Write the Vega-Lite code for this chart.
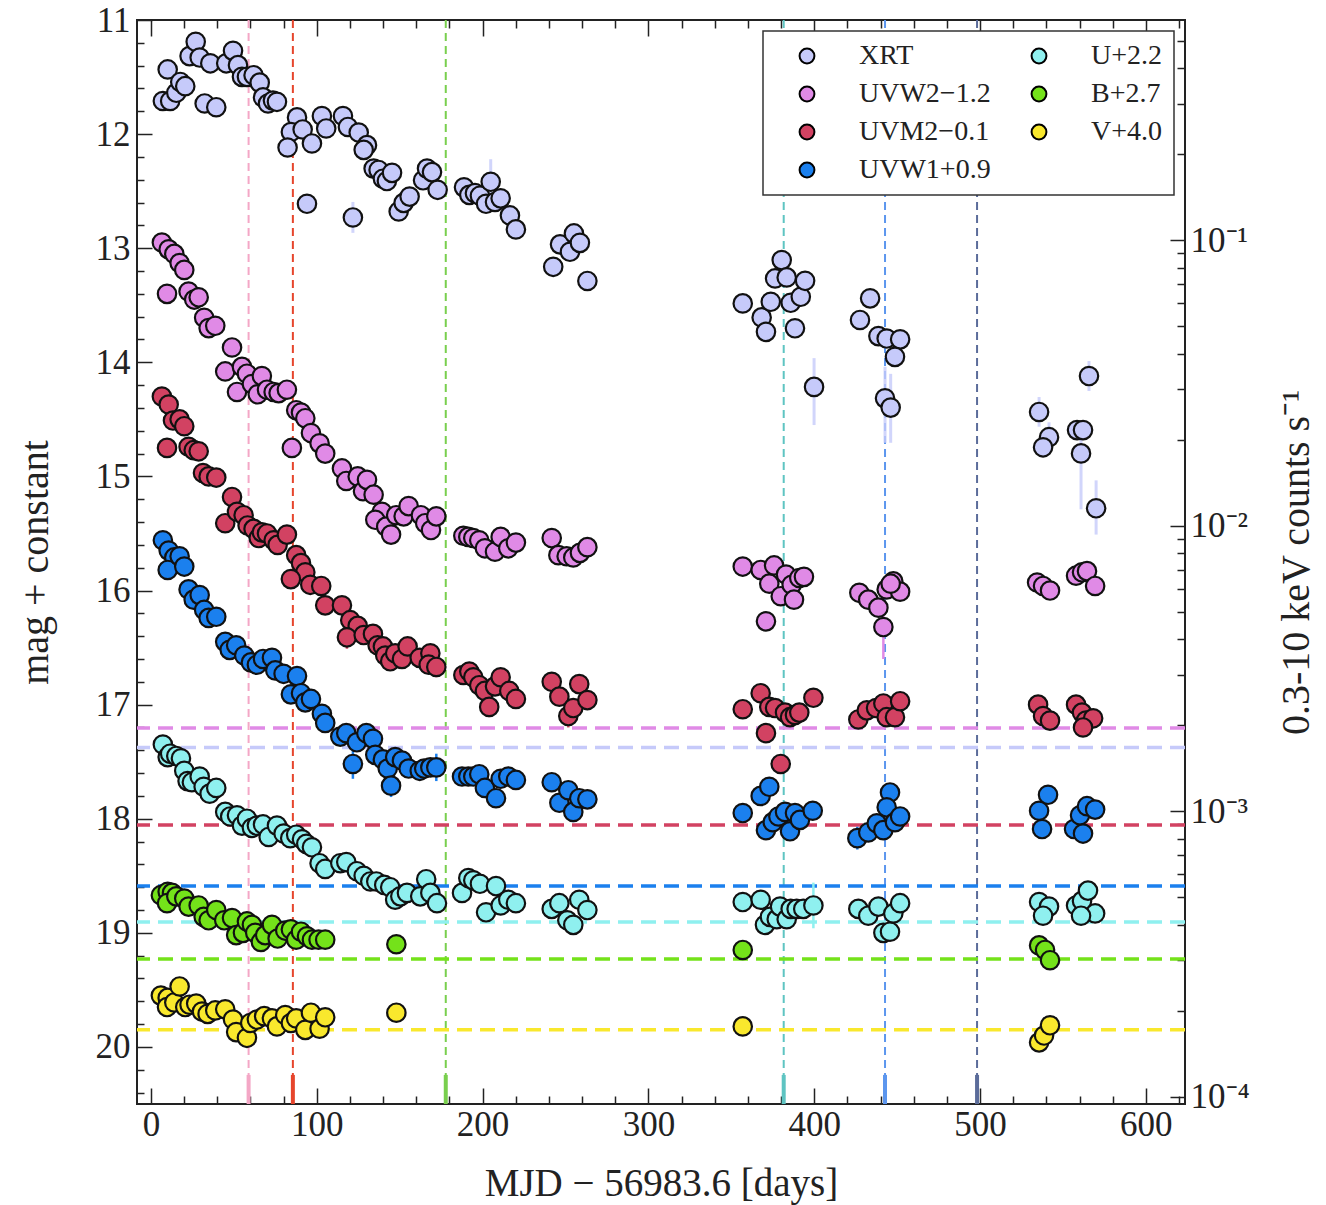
{
"$schema":"https://vega.github.io/schema/vega-lite/v6.json",
"width":1048,"height":1084,"autosize":"none",
"padding":{"left":137,"top":20,"right":141,"bottom":101},
"background":"white",
"config":{
 "font":"Liberation Serif",
 "view":{"stroke":"#222","strokeWidth":2},
 "axis":{"labelFont":"Liberation Serif","labelFontSize":35,"labelColor":"#222","titleFont":"Liberation Serif","titleFontSize":40,"titleFontWeight":"normal","titleColor":"#222","domain":false,"grid":false,"tickColor":"#222","tickWidth":1.5,"labelOverlap":false,"labelFlush":false},
 "legend":{"orient":"top-right","offset":11,"columns":2,"padding":11,"strokeColor":"#333","strokeWidth":1.5,"fillColor":"white","cornerRadius":0,"labelFont":"Liberation Serif","labelFontSize":28,"labelColor":"#222","symbolSize":220,"symbolStrokeWidth":2,"symbolStrokeColor":"black","symbolType":"circle","rowPadding":10,"columnPadding":15,"labelOffset":38,"symbolOffset":19}
},
"datasets":{
"xrt":[
{"band":"XRT","day":7.2,"rate":0.307},{"band":"XRT","day":10.1,"rate":0.396},{"band":"XRT","day":11.6,"rate":0.307},{"band":"XRT","day":15.3,"rate":0.328},{"band":"XRT","day":17.7,"rate":0.358},{"band":"XRT","day":20.7,"rate":0.346},{"band":"XRT","day":23.3,"rate":0.441},{"band":"XRT","day":27.0,"rate":0.495},{"band":"XRT","day":29.4,"rate":0.436},{"band":"XRT","day":35.8,"rate":0.416},{"band":"XRT","day":32.4,"rate":0.301},{"band":"XRT","day":39.4,"rate":0.292},{"band":"XRT","day":45.4,"rate":0.416},{"band":"XRT","day":49.5,"rate":0.46},{"band":"XRT","day":52.5,"rate":0.41},{"band":"XRT","day":54.9,"rate":0.373},{"band":"XRT","day":57.9,"rate":0.373},{"band":"XRT","day":61.9,"rate":0.378},{"band":"XRT","day":65.6,"rate":0.356},{"band":"XRT","day":67.6,"rate":0.316},{"band":"XRT","day":70.6,"rate":0.301},{"band":"XRT","day":73.6,"rate":0.308},{"band":"XRT","day":76.0,"rate":0.305},{"band":"XRT","day":88.1,"rate":0.269},{"band":"XRT","day":84.4,"rate":0.239},{"band":"XRT","day":91.5,"rate":0.244},{"band":"XRT","day":82.4,"rate":0.211},{"band":"XRT","day":97.1,"rate":0.218},{"band":"XRT","day":94.1,"rate":0.134},{"band":"XRT","day":103.1,"rate":0.272},{"band":"XRT","day":105.7,"rate":0.246},{"band":"XRT","day":115.8,"rate":0.272},{"band":"XRT","day":118.8,"rate":0.249},{"band":"XRT","day":125.3,"rate":0.238},{"band":"XRT","day":130.3,"rate":0.215},{"band":"XRT","day":128.3,"rate":0.207},{"band":"XRT","day":121.8,"rate":0.12},{"band":"XRT","day":134.3,"rate":0.178},{"band":"XRT","day":137.3,"rate":0.176},{"band":"XRT","day":139.9,"rate":0.164},{"band":"XRT","day":142.3,"rate":0.161},{"band":"XRT","day":145.4,"rate":0.172},{"band":"XRT","day":149.4,"rate":0.126},{"band":"XRT","day":152.4,"rate":0.135},{"band":"XRT","day":156.0,"rate":0.142},{"band":"XRT","day":164.1,"rate":0.162},{"band":"XRT","day":166.5,"rate":0.178},{"band":"XRT","day":169.5,"rate":0.173},{"band":"XRT","day":172.9,"rate":0.15},{"band":"XRT","day":188.8,"rate":0.153},{"band":"XRT","day":192.0,"rate":0.144},{"band":"XRT","day":195.4,"rate":0.146},{"band":"XRT","day":198.4,"rate":0.143},{"band":"XRT","day":202.1,"rate":0.134},{"band":"XRT","day":204.9,"rate":0.16},{"band":"XRT","day":207.5,"rate":0.136},{"band":"XRT","day":210.9,"rate":0.14},{"band":"XRT","day":216.5,"rate":0.122},{"band":"XRT","day":220.1,"rate":0.109},{"band":"XRT","day":242.6,"rate":0.0806},{"band":"XRT","day":246.7,"rate":0.0966},{"band":"XRT","day":252.7,"rate":0.091},{"band":"XRT","day":255.1,"rate":0.1055},{"band":"XRT","day":258.7,"rate":0.0978},{"band":"XRT","day":263.2,"rate":0.0719},{"band":"XRT","day":356.9,"rate":0.06},{"band":"XRT","day":368.3,"rate":0.0536},{"band":"XRT","day":370.9,"rate":0.0477},{"band":"XRT","day":373.8,"rate":0.0608},{"band":"XRT","day":376.4,"rate":0.0734},{"band":"XRT","day":380.4,"rate":0.0851},{"band":"XRT","day":383.4,"rate":0.074},{"band":"XRT","day":385.8,"rate":0.0603},{"band":"XRT","day":388.4,"rate":0.0491},{"band":"XRT","day":391.9,"rate":0.0633},{"band":"XRT","day":394.5,"rate":0.072},{"band":"XRT","day":399.9,"rate":0.0306},{"band":"XRT","day":427.6,"rate":0.0525},{"band":"XRT","day":433.7,"rate":0.0625},{"band":"XRT","day":438.7,"rate":0.0461},{"band":"XRT","day":443.7,"rate":0.0452},{"band":"XRT","day":451.8,"rate":0.0449},{"band":"XRT","day":448.7,"rate":0.039},{"band":"XRT","day":442.7,"rate":0.0279},{"band":"XRT","day":446.1,"rate":0.0259},{"band":"XRT","day":535.6,"rate":0.025},{"band":"XRT","day":541.6,"rate":0.0204},{"band":"XRT","day":538.0,"rate":0.0188},{"band":"XRT","day":558.5,"rate":0.0216},{"band":"XRT","day":562.1,"rate":0.0216},{"band":"XRT","day":560.9,"rate":0.0179},{"band":"XRT","day":565.7,"rate":0.0334},{"band":"XRT","day":570.0,"rate":0.0115}
],
"xrterr":[
{"series":"XRT","day":121.8,"lo":0.106,"hi":0.136},{"series":"XRT","day":204.9,"lo":0.133,"hi":0.192},{"series":"XRT","day":399.9,"lo":0.0225,"hi":0.0386},{"series":"XRT","day":442.7,"lo":0.0195,"hi":0.036},{"series":"XRT","day":446.1,"lo":0.0195,"hi":0.034},{"series":"XRT","day":535.6,"lo":0.0222,"hi":0.0282},{"series":"XRT","day":541.6,"lo":0.018,"hi":0.023},{"series":"XRT","day":560.9,"lo":0.0114,"hi":0.0216},{"series":"XRT","day":565.7,"lo":0.0296,"hi":0.0377},{"series":"XRT","day":570.0,"lo":0.0093,"hi":0.0144}
],
"xrtlevel":[{"series":"XRT","rate":0.00167}],
"levels":[
{"series":"UVW2−1.2","level":17.205},{"series":"UVM2−0.1","level":18.055},{"series":"UVW1+0.9","level":18.59},{"series":"U+2.2","level":18.905},{"series":"B+2.7","level":19.23},{"series":"V+4.0","level":19.85}
],
"epochs":[
{"epoch":"E1","day":58.9},{"epoch":"E2","day":85.6},{"epoch":"E3","day":177.8},{"epoch":"E4","day":381.6},{"epoch":"E5","day":442.7},{"epoch":"E6","day":498.2}
],
"magerr":[
{"series":"UVM2−0.1","day":118.2,"lo":16.31,"hi":16.51},{"series":"UVM2−0.1","day":172.1,"lo":16.58,"hi":16.76},{"series":"UVM2−0.1","day":204.0,"lo":16.93,"hi":17.11},{"series":"UVM2−0.1","day":251.7,"lo":17.0,"hi":17.2},{"series":"UVM2−0.1","day":426.6,"lo":17.05,"hi":17.21},{"series":"UVM2−0.1","day":443.7,"lo":17.03,"hi":17.19},
{"series":"UVW1+0.9","day":121.8,"lo":17.39,"hi":17.65},{"series":"UVW1+0.9","day":144.8,"lo":17.61,"hi":17.81},{"series":"UVW1+0.9","day":172.1,"lo":17.43,"hi":17.67},{"series":"UVW1+0.9","day":254.7,"lo":17.85,"hi":18.03},{"series":"UVW1+0.9","day":426.0,"lo":18.07,"hi":18.27},
{"series":"UVW2−1.2","day":441.7,"lo":16.1,"hi":16.6},
{"series":"U+2.2","day":399.5,"lo":18.56,"hi":18.96},{"series":"U+2.2","day":254.7,"lo":18.87,"hi":18.99}
],
"mag":[
{"band":"UVW2−1.2","day":6.6,"mag":12.95},{"band":"UVW2−1.2","day":10.7,"mag":13.01},{"band":"UVW2−1.2","day":14.1,"mag":13.05},{"band":"UVW2−1.2","day":17.3,"mag":13.13},{"band":"UVW2−1.2","day":20.1,"mag":13.19},{"band":"UVW2−1.2","day":9.7,"mag":13.4},{"band":"UVW2−1.2","day":22.7,"mag":13.38},{"band":"UVW2−1.2","day":26.1,"mag":13.45},{"band":"UVW2−1.2","day":28.8,"mag":13.43},{"band":"UVW2−1.2","day":32.1,"mag":13.61},{"band":"UVW2−1.2","day":34.8,"mag":13.7},{"band":"UVW2−1.2","day":38.8,"mag":13.68},{"band":"UVW2−1.2","day":48.9,"mag":13.87},{"band":"UVW2−1.2","day":44.8,"mag":14.08},{"band":"UVW2−1.2","day":54.9,"mag":14.04},{"band":"UVW2−1.2","day":57.9,"mag":14.1},{"band":"UVW2−1.2","day":51.9,"mag":14.26},{"band":"UVW2−1.2","day":60.9,"mag":14.19},{"band":"UVW2−1.2","day":64.4,"mag":14.28},{"band":"UVW2−1.2","day":66.9,"mag":14.12},{"band":"UVW2−1.2","day":70.0,"mag":14.24},{"band":"UVW2−1.2","day":74.0,"mag":14.26},{"band":"UVW2−1.2","day":77.0,"mag":14.27},{"band":"UVW2−1.2","day":82.0,"mag":14.24},{"band":"UVW2−1.2","day":85.0,"mag":14.75},{"band":"UVW2−1.2","day":87.6,"mag":14.42},{"band":"UVW2−1.2","day":90.5,"mag":14.44},{"band":"UVW2−1.2","day":93.1,"mag":14.49},{"band":"UVW2−1.2","day":96.5,"mag":14.62},{"band":"UVW2−1.2","day":101.7,"mag":14.71},{"band":"UVW2−1.2","day":105.1,"mag":14.8},{"band":"UVW2−1.2","day":115.2,"mag":14.93},{"band":"UVW2−1.2","day":117.8,"mag":15.04},{"band":"UVW2−1.2","day":124.7,"mag":15.0},{"band":"UVW2−1.2","day":127.9,"mag":15.13},{"band":"UVW2−1.2","day":130.3,"mag":15.03},{"band":"UVW2−1.2","day":134.3,"mag":15.16},{"band":"UVW2−1.2","day":139.3,"mag":15.31},{"band":"UVW2−1.2","day":135.3,"mag":15.38},{"band":"UVW2−1.2","day":141.9,"mag":15.44},{"band":"UVW2−1.2","day":144.8,"mag":15.51},{"band":"UVW2−1.2","day":147.9,"mag":15.34},{"band":"UVW2−1.2","day":152.4,"mag":15.35},{"band":"UVW2−1.2","day":155.4,"mag":15.26},{"band":"UVW2−1.2","day":162.8,"mag":15.34},{"band":"UVW2−1.2","day":165.4,"mag":15.41},{"band":"UVW2−1.2","day":168.9,"mag":15.47},{"band":"UVW2−1.2","day":172.1,"mag":15.35},{"band":"UVW2−1.2","day":188.4,"mag":15.52},{"band":"UVW2−1.2","day":191.4,"mag":15.53},{"band":"UVW2−1.2","day":194.4,"mag":15.54},{"band":"UVW2−1.2","day":198.0,"mag":15.56},{"band":"UVW2−1.2","day":201.4,"mag":15.63},{"band":"UVW2−1.2","day":207.5,"mag":15.66},{"band":"UVW2−1.2","day":210.9,"mag":15.53},{"band":"UVW2−1.2","day":215.5,"mag":15.63},{"band":"UVW2−1.2","day":220.1,"mag":15.58},{"band":"UVW2−1.2","day":241.7,"mag":15.54},{"band":"UVW2−1.2","day":245.7,"mag":15.69},{"band":"UVW2−1.2","day":250.7,"mag":15.7},{"band":"UVW2−1.2","day":254.7,"mag":15.71},{"band":"UVW2−1.2","day":258.7,"mag":15.67},{"band":"UVW2−1.2","day":263.2,"mag":15.62},{"band":"UVW2−1.2","day":356.9,"mag":15.79},{"band":"UVW2−1.2","day":367.7,"mag":15.82},{"band":"UVW2−1.2","day":372.9,"mag":15.94},{"band":"UVW2−1.2","day":375.8,"mag":15.78},{"band":"UVW2−1.2","day":379.8,"mag":16.05},{"band":"UVW2−1.2","day":383.0,"mag":15.86},{"band":"UVW2−1.2","day":386.4,"mag":15.95},{"band":"UVW2−1.2","day":387.8,"mag":16.08},{"band":"UVW2−1.2","day":391.0,"mag":15.89},{"band":"UVW2−1.2","day":393.8,"mag":15.88},{"band":"UVW2−1.2","day":370.9,"mag":16.27},{"band":"UVW2−1.2","day":427.2,"mag":16.02},{"band":"UVW2−1.2","day":432.6,"mag":16.08},{"band":"UVW2−1.2","day":438.7,"mag":16.15},{"band":"UVW2−1.2","day":441.7,"mag":16.32},{"band":"UVW2−1.2","day":443.7,"mag":15.99},{"band":"UVW2−1.2","day":447.7,"mag":15.92},{"band":"UVW2−1.2","day":451.8,"mag":16.01},{"band":"UVW2−1.2","day":446.1,"mag":15.94},{"band":"UVW2−1.2","day":534.4,"mag":15.93},{"band":"UVW2−1.2","day":538.0,"mag":15.96},{"band":"UVW2−1.2","day":542.2,"mag":16.0},{"band":"UVW2−1.2","day":557.9,"mag":15.87},{"band":"UVW2−1.2","day":561.5,"mag":15.84},{"band":"UVW2−1.2","day":564.5,"mag":15.83},{"band":"UVW2−1.2","day":569.4,"mag":15.96},
{"band":"UVM2−0.1","day":6.6,"mag":14.3},{"band":"UVM2−0.1","day":10.7,"mag":14.37},{"band":"UVM2−0.1","day":13.3,"mag":14.51},{"band":"UVM2−0.1","day":17.3,"mag":14.5},{"band":"UVM2−0.1","day":20.1,"mag":14.56},{"band":"UVM2−0.1","day":9.7,"mag":14.75},{"band":"UVM2−0.1","day":22.7,"mag":14.74},{"band":"UVM2−0.1","day":25.8,"mag":14.77},{"band":"UVM2−0.1","day":28.8,"mag":14.78},{"band":"UVM2−0.1","day":31.4,"mag":14.97},{"band":"UVM2−0.1","day":34.8,"mag":15.0},{"band":"UVM2−0.1","day":39.4,"mag":15.01},{"band":"UVM2−0.1","day":48.9,"mag":15.18},{"band":"UVM2−0.1","day":44.8,"mag":15.41},{"band":"UVM2−0.1","day":51.9,"mag":15.31},{"band":"UVM2−0.1","day":55.9,"mag":15.34},{"band":"UVM2−0.1","day":58.3,"mag":15.43},{"band":"UVM2−0.1","day":61.9,"mag":15.46},{"band":"UVM2−0.1","day":65.0,"mag":15.54},{"band":"UVM2−0.1","day":66.9,"mag":15.49},{"band":"UVM2−0.1","day":70.0,"mag":15.5},{"band":"UVM2−0.1","day":74.0,"mag":15.56},{"band":"UVM2−0.1","day":76.4,"mag":15.6},{"band":"UVM2−0.1","day":82.0,"mag":15.51},{"band":"UVM2−0.1","day":87.6,"mag":15.69},{"band":"UVM2−0.1","day":90.5,"mag":15.76},{"band":"UVM2−0.1","day":93.1,"mag":15.84},{"band":"UVM2−0.1","day":84.4,"mag":15.9},{"band":"UVM2−0.1","day":96.1,"mag":15.95},{"band":"UVM2−0.1","day":102.7,"mag":15.96},{"band":"UVM2−0.1","day":105.1,"mag":16.13},{"band":"UVM2−0.1","day":115.2,"mag":16.13},{"band":"UVM2−0.1","day":120.2,"mag":16.26},{"band":"UVM2−0.1","day":124.7,"mag":16.31},{"band":"UVM2−0.1","day":118.2,"mag":16.41},{"band":"UVM2−0.1","day":128.3,"mag":16.39},{"band":"UVM2−0.1","day":133.9,"mag":16.38},{"band":"UVM2−0.1","day":136.7,"mag":16.48},{"band":"UVM2−0.1","day":139.9,"mag":16.49},{"band":"UVM2−0.1","day":141.3,"mag":16.57},{"band":"UVM2−0.1","day":144.3,"mag":16.62},{"band":"UVM2−0.1","day":147.3,"mag":16.55},{"band":"UVM2−0.1","day":151.4,"mag":16.6},{"band":"UVM2−0.1","day":154.8,"mag":16.49},{"band":"UVM2−0.1","day":162.1,"mag":16.59},{"band":"UVM2−0.1","day":168.5,"mag":16.55},{"band":"UVM2−0.1","day":167.5,"mag":16.65},{"band":"UVM2−0.1","day":172.1,"mag":16.67},{"band":"UVM2−0.1","day":188.4,"mag":16.74},{"band":"UVM2−0.1","day":192.0,"mag":16.71},{"band":"UVM2−0.1","day":194.4,"mag":16.76},{"band":"UVM2−0.1","day":198.0,"mag":16.83},{"band":"UVM2−0.1","day":201.4,"mag":16.88},{"band":"UVM2−0.1","day":204.0,"mag":17.02},{"band":"UVM2−0.1","day":207.5,"mag":16.84},{"band":"UVM2−0.1","day":210.9,"mag":16.76},{"band":"UVM2−0.1","day":216.1,"mag":16.88},{"band":"UVM2−0.1","day":220.1,"mag":16.95},{"band":"UVM2−0.1","day":241.7,"mag":16.8},{"band":"UVM2−0.1","day":246.3,"mag":16.93},{"band":"UVM2−0.1","day":251.7,"mag":17.1},{"band":"UVM2−0.1","day":254.7,"mag":17.03},{"band":"UVM2−0.1","day":258.3,"mag":16.82},{"band":"UVM2−0.1","day":263.2,"mag":16.96},{"band":"UVM2−0.1","day":356.9,"mag":17.04},{"band":"UVM2−0.1","day":367.7,"mag":16.9},{"band":"UVM2−0.1","day":370.9,"mag":17.25},{"band":"UVM2−0.1","day":372.9,"mag":17.02},{"band":"UVM2−0.1","day":376.4,"mag":17.03},{"band":"UVM2−0.1","day":382.4,"mag":17.07},{"band":"UVM2−0.1","day":385.4,"mag":17.11},{"band":"UVM2−0.1","day":388.4,"mag":17.09},{"band":"UVM2−0.1","day":391.0,"mag":17.07},{"band":"UVM2−0.1","day":399.5,"mag":16.94},{"band":"UVM2−0.1","day":379.8,"mag":17.52},{"band":"UVM2−0.1","day":426.6,"mag":17.13},{"band":"UVM2−0.1","day":431.7,"mag":17.05},{"band":"UVM2−0.1","day":437.3,"mag":17.03},{"band":"UVM2−0.1","day":441.7,"mag":16.99},{"band":"UVM2−0.1","day":443.7,"mag":17.11},{"band":"UVM2−0.1","day":448.7,"mag":17.11},{"band":"UVM2−0.1","day":451.8,"mag":16.97},{"band":"UVM2−0.1","day":535.0,"mag":17.0},{"band":"UVM2−0.1","day":538.0,"mag":17.1},{"band":"UVM2−0.1","day":542.2,"mag":17.14},{"band":"UVM2−0.1","day":557.9,"mag":17.0},{"band":"UVM2−0.1","day":561.5,"mag":17.07},{"band":"UVM2−0.1","day":563.9,"mag":17.14},{"band":"UVM2−0.1","day":568.2,"mag":17.12},{"band":"UVM2−0.1","day":562.1,"mag":17.2},
{"band":"UVW1+0.9","day":7.2,"mag":15.56},{"band":"UVW1+0.9","day":10.7,"mag":15.65},{"band":"UVW1+0.9","day":14.1,"mag":15.71},{"band":"UVW1+0.9","day":10.1,"mag":15.82},{"band":"UVW1+0.9","day":17.3,"mag":15.7},{"band":"UVW1+0.9","day":20.1,"mag":15.79},{"band":"UVW1+0.9","day":22.7,"mag":15.99},{"band":"UVW1+0.9","day":25.8,"mag":16.08},{"band":"UVW1+0.9","day":29.4,"mag":16.04},{"band":"UVW1+0.9","day":32.1,"mag":16.17},{"band":"UVW1+0.9","day":34.8,"mag":16.24},{"band":"UVW1+0.9","day":39.4,"mag":16.23},{"band":"UVW1+0.9","day":44.8,"mag":16.45},{"band":"UVW1+0.9","day":47.5,"mag":16.52},{"band":"UVW1+0.9","day":51.4,"mag":16.48},{"band":"UVW1+0.9","day":56.3,"mag":16.57},{"band":"UVW1+0.9","day":60.3,"mag":16.63},{"band":"UVW1+0.9","day":63.9,"mag":16.65},{"band":"UVW1+0.9","day":67.6,"mag":16.6},{"band":"UVW1+0.9","day":73.0,"mag":16.59},{"band":"UVW1+0.9","day":75.0,"mag":16.7},{"band":"UVW1+0.9","day":80.0,"mag":16.73},{"band":"UVW1+0.9","day":84.4,"mag":16.91},{"band":"UVW1+0.9","day":88.1,"mag":16.75},{"band":"UVW1+0.9","day":90.5,"mag":16.9},{"band":"UVW1+0.9","day":93.1,"mag":16.98},{"band":"UVW1+0.9","day":96.5,"mag":16.95},{"band":"UVW1+0.9","day":103.1,"mag":17.08},{"band":"UVW1+0.9","day":105.1,"mag":17.16},{"band":"UVW1+0.9","day":114.2,"mag":17.28},{"band":"UVW1+0.9","day":117.8,"mag":17.25},{"band":"UVW1+0.9","day":121.8,"mag":17.52},{"band":"UVW1+0.9","day":124.2,"mag":17.33},{"band":"UVW1+0.9","day":129.9,"mag":17.25},{"band":"UVW1+0.9","day":133.9,"mag":17.3},{"band":"UVW1+0.9","day":135.3,"mag":17.44},{"band":"UVW1+0.9","day":139.9,"mag":17.48},{"band":"UVW1+0.9","day":142.8,"mag":17.56},{"band":"UVW1+0.9","day":144.8,"mag":17.71},{"band":"UVW1+0.9","day":147.3,"mag":17.46},{"band":"UVW1+0.9","day":151.4,"mag":17.49},{"band":"UVW1+0.9","day":155.4,"mag":17.56},{"band":"UVW1+0.9","day":162.1,"mag":17.58},{"band":"UVW1+0.9","day":164.8,"mag":17.56},{"band":"UVW1+0.9","day":168.5,"mag":17.55},{"band":"UVW1+0.9","day":172.1,"mag":17.55},{"band":"UVW1+0.9","day":187.6,"mag":17.63},{"band":"UVW1+0.9","day":191.4,"mag":17.63},{"band":"UVW1+0.9","day":194.4,"mag":17.63},{"band":"UVW1+0.9","day":198.0,"mag":17.61},{"band":"UVW1+0.9","day":201.4,"mag":17.73},{"band":"UVW1+0.9","day":208.1,"mag":17.82},{"band":"UVW1+0.9","day":210.9,"mag":17.65},{"band":"UVW1+0.9","day":215.5,"mag":17.63},{"band":"UVW1+0.9","day":220.1,"mag":17.66},{"band":"UVW1+0.9","day":241.7,"mag":17.68},{"band":"UVW1+0.9","day":246.3,"mag":17.86},{"band":"UVW1+0.9","day":251.7,"mag":17.75},{"band":"UVW1+0.9","day":254.7,"mag":17.94},{"band":"UVW1+0.9","day":258.3,"mag":17.82},{"band":"UVW1+0.9","day":263.2,"mag":17.83},{"band":"UVW1+0.9","day":356.9,"mag":17.95},{"band":"UVW1+0.9","day":367.7,"mag":17.8},{"band":"UVW1+0.9","day":372.9,"mag":17.72},{"band":"UVW1+0.9","day":370.9,"mag":18.1},{"band":"UVW1+0.9","day":375.0,"mag":18.03},{"band":"UVW1+0.9","day":378.4,"mag":17.98},{"band":"UVW1+0.9","day":382.4,"mag":17.94},{"band":"UVW1+0.9","day":385.4,"mag":18.11},{"band":"UVW1+0.9","day":388.4,"mag":17.95},{"band":"UVW1+0.9","day":391.4,"mag":18.01},{"band":"UVW1+0.9","day":399.1,"mag":17.93},{"band":"UVW1+0.9","day":426.0,"mag":18.17},{"band":"UVW1+0.9","day":432.6,"mag":18.12},{"band":"UVW1+0.9","day":437.7,"mag":18.04},{"band":"UVW1+0.9","day":441.7,"mag":18.1},{"band":"UVW1+0.9","day":445.7,"mag":17.77},{"band":"UVW1+0.9","day":443.7,"mag":17.9},{"band":"UVW1+0.9","day":448.7,"mag":18.03},{"band":"UVW1+0.9","day":451.8,"mag":17.98},{"band":"UVW1+0.9","day":535.6,"mag":17.93},{"band":"UVW1+0.9","day":541.0,"mag":17.79},{"band":"UVW1+0.9","day":537.4,"mag":18.09},{"band":"UVW1+0.9","day":556.7,"mag":18.09},{"band":"UVW1+0.9","day":560.3,"mag":17.97},{"band":"UVW1+0.9","day":564.5,"mag":17.89},{"band":"UVW1+0.9","day":569.4,"mag":17.92},{"band":"UVW1+0.9","day":562.1,"mag":18.13},
{"band":"U+2.2","day":7.2,"mag":17.35},{"band":"U+2.2","day":10.1,"mag":17.46},{"band":"U+2.2","day":11.6,"mag":17.43},{"band":"U+2.2","day":15.3,"mag":17.45},{"band":"U+2.2","day":18.1,"mag":17.47},{"band":"U+2.2","day":20.1,"mag":17.58},{"band":"U+2.2","day":22.1,"mag":17.67},{"band":"U+2.2","day":24.7,"mag":17.68},{"band":"U+2.2","day":29.4,"mag":17.63},{"band":"U+2.2","day":31.8,"mag":17.72},{"band":"U+2.2","day":35.4,"mag":17.78},{"band":"U+2.2","day":39.4,"mag":17.73},{"band":"U+2.2","day":44.8,"mag":17.94},{"band":"U+2.2","day":47.8,"mag":17.98},{"band":"U+2.2","day":51.9,"mag":17.97},{"band":"U+2.2","day":54.9,"mag":18.06},{"band":"U+2.2","day":57.9,"mag":18.0},{"band":"U+2.2","day":60.9,"mag":18.08},{"band":"U+2.2","day":63.9,"mag":18.06},{"band":"U+2.2","day":67.6,"mag":18.05},{"band":"U+2.2","day":71.0,"mag":18.16},{"band":"U+2.2","day":76.0,"mag":18.06},{"band":"U+2.2","day":80.0,"mag":18.13},{"band":"U+2.2","day":84.0,"mag":18.17},{"band":"U+2.2","day":87.6,"mag":18.14},{"band":"U+2.2","day":91.1,"mag":18.18},{"band":"U+2.2","day":93.7,"mag":18.22},{"band":"U+2.2","day":97.1,"mag":18.25},{"band":"U+2.2","day":101.7,"mag":18.39},{"band":"U+2.2","day":105.1,"mag":18.44},{"band":"U+2.2","day":114.2,"mag":18.39},{"band":"U+2.2","day":117.8,"mag":18.38},{"band":"U+2.2","day":124.2,"mag":18.46},{"band":"U+2.2","day":128.3,"mag":18.5},{"band":"U+2.2","day":132.3,"mag":18.55},{"band":"U+2.2","day":135.9,"mag":18.55},{"band":"U+2.2","day":140.7,"mag":18.58},{"band":"U+2.2","day":144.3,"mag":18.6},{"band":"U+2.2","day":147.3,"mag":18.71},{"band":"U+2.2","day":150.4,"mag":18.68},{"band":"U+2.2","day":154.4,"mag":18.65},{"band":"U+2.2","day":162.4,"mag":18.68},{"band":"U+2.2","day":166.0,"mag":18.53},{"band":"U+2.2","day":168.5,"mag":18.65},{"band":"U+2.2","day":172.5,"mag":18.74},{"band":"U+2.2","day":187.6,"mag":18.65},{"band":"U+2.2","day":191.4,"mag":18.52},{"band":"U+2.2","day":194.4,"mag":18.54},{"band":"U+2.2","day":198.4,"mag":18.57},{"band":"U+2.2","day":202.1,"mag":18.82},{"band":"U+2.2","day":208.1,"mag":18.59},{"band":"U+2.2","day":210.9,"mag":18.76},{"band":"U+2.2","day":215.5,"mag":18.71},{"band":"U+2.2","day":220.1,"mag":18.74},{"band":"U+2.2","day":241.7,"mag":18.79},{"band":"U+2.2","day":246.3,"mag":18.74},{"band":"U+2.2","day":251.1,"mag":18.89},{"band":"U+2.2","day":254.7,"mag":18.93},{"band":"U+2.2","day":258.3,"mag":18.71},{"band":"U+2.2","day":263.2,"mag":18.8},{"band":"U+2.2","day":356.9,"mag":18.73},{"band":"U+2.2","day":367.7,"mag":18.71},{"band":"U+2.2","day":370.3,"mag":18.93},{"band":"U+2.2","day":373.3,"mag":18.86},{"band":"U+2.2","day":377.4,"mag":18.88},{"band":"U+2.2","day":379.4,"mag":18.77},{"band":"U+2.2","day":383.4,"mag":18.88},{"band":"U+2.2","day":385.8,"mag":18.79},{"band":"U+2.2","day":389.4,"mag":18.79},{"band":"U+2.2","day":393.4,"mag":18.79},{"band":"U+2.2","day":399.5,"mag":18.76},{"band":"U+2.2","day":426.6,"mag":18.79},{"band":"U+2.2","day":432.6,"mag":18.85},{"band":"U+2.2","day":438.7,"mag":18.77},{"band":"U+2.2","day":441.7,"mag":19.0},{"band":"U+2.2","day":445.7,"mag":18.99},{"band":"U+2.2","day":447.7,"mag":18.83},{"band":"U+2.2","day":451.8,"mag":18.74},{"band":"U+2.2","day":535.6,"mag":18.73},{"band":"U+2.2","day":541.6,"mag":18.77},{"band":"U+2.2","day":538.0,"mag":18.85},{"band":"U+2.2","day":557.9,"mag":18.76},{"band":"U+2.2","day":561.5,"mag":18.72},{"band":"U+2.2","day":565.1,"mag":18.63},{"band":"U+2.2","day":569.4,"mag":18.83},{"band":"U+2.2","day":560.9,"mag":18.85},
{"band":"B+2.7","day":6.0,"mag":18.67},{"band":"B+2.7","day":10.1,"mag":18.64},{"band":"B+2.7","day":12.7,"mag":18.65},{"band":"B+2.7","day":9.7,"mag":18.74},{"band":"B+2.7","day":15.3,"mag":18.68},{"band":"B+2.7","day":20.1,"mag":18.7},{"band":"B+2.7","day":22.7,"mag":18.77},{"band":"B+2.7","day":28.8,"mag":18.76},{"band":"B+2.7","day":31.8,"mag":18.86},{"band":"B+2.7","day":34.8,"mag":18.89},{"band":"B+2.7","day":39.4,"mag":18.8},{"band":"B+2.7","day":44.2,"mag":18.89},{"band":"B+2.7","day":48.9,"mag":18.87},{"band":"B+2.7","day":51.4,"mag":19.02},{"band":"B+2.7","day":55.5,"mag":19.0},{"band":"B+2.7","day":57.9,"mag":18.9},{"band":"B+2.7","day":60.9,"mag":18.93},{"band":"B+2.7","day":62.9,"mag":19.0},{"band":"B+2.7","day":66.3,"mag":19.08},{"band":"B+2.7","day":68.9,"mag":19.02},{"band":"B+2.7","day":73.0,"mag":18.93},{"band":"B+2.7","day":76.4,"mag":19.05},{"band":"B+2.7","day":81.0,"mag":18.98},{"band":"B+2.7","day":84.4,"mag":18.97},{"band":"B+2.7","day":87.6,"mag":19.06},{"band":"B+2.7","day":90.5,"mag":18.99},{"band":"B+2.7","day":94.1,"mag":19.03},{"band":"B+2.7","day":97.1,"mag":19.06},{"band":"B+2.7","day":101.1,"mag":19.06},{"band":"B+2.7","day":105.1,"mag":19.06},{"band":"B+2.7","day":148.0,"mag":19.1},{"band":"B+2.7","day":356.9,"mag":19.15},{"band":"B+2.7","day":535.6,"mag":19.11},{"band":"B+2.7","day":539.2,"mag":19.15},{"band":"B+2.7","day":542.2,"mag":19.24},
{"band":"V+4.0","day":6.0,"mag":19.55},{"band":"V+4.0","day":10.1,"mag":19.57},{"band":"V+4.0","day":9.7,"mag":19.65},{"band":"V+4.0","day":14.1,"mag":19.61},{"band":"V+4.0","day":17.3,"mag":19.47},{"band":"V+4.0","day":20.7,"mag":19.65},{"band":"V+4.0","day":23.3,"mag":19.63},{"band":"V+4.0","day":27.3,"mag":19.62},{"band":"V+4.0","day":30.8,"mag":19.69},{"band":"V+4.0","day":34.2,"mag":19.71},{"band":"V+4.0","day":38.8,"mag":19.68},{"band":"V+4.0","day":44.8,"mag":19.67},{"band":"V+4.0","day":49.5,"mag":19.76},{"band":"V+4.0","day":51.4,"mag":19.87},{"band":"V+4.0","day":57.9,"mag":19.92},{"band":"V+4.0","day":59.9,"mag":19.79},{"band":"V+4.0","day":63.9,"mag":19.76},{"band":"V+4.0","day":68.3,"mag":19.73},{"band":"V+4.0","day":73.0,"mag":19.75},{"band":"V+4.0","day":76.0,"mag":19.82},{"band":"V+4.0","day":81.0,"mag":19.72},{"band":"V+4.0","day":84.4,"mag":19.79},{"band":"V+4.0","day":87.6,"mag":19.75},{"band":"V+4.0","day":93.1,"mag":19.85},{"band":"V+4.0","day":96.5,"mag":19.7},{"band":"V+4.0","day":101.7,"mag":19.84},{"band":"V+4.0","day":105.1,"mag":19.74},{"band":"V+4.0","day":148.0,"mag":19.7},{"band":"V+4.0","day":356.9,"mag":19.82},{"band":"V+4.0","day":535.6,"mag":19.96},{"band":"V+4.0","day":538.6,"mag":19.9},{"band":"V+4.0","day":542.2,"mag":19.81}
]
},
"layer":[
  {"data":{"name":"epochs"},
   "mark":{"type":"rule","strokeWidth":2,"strokeDash":[8,5]},
   "encoding":{
    "x":{"field":"day","type":"quantitative","scale":{"domain":[-8.4,623.6],"nice":false,"zero":false},
     "axis":{"orient":"top","labels":false,"title":null,"values":[0,20,40,60,80,100,120,140,160,180,200,220,240,260,280,300,320,340,360,380,400,420,440,460,480,500,520,540,560,580,600,620],"tickSize":{"condition":{"test":"datum.value % 100 === 0","value":-16},"value":-8}}},
    "color":{"field":"epoch","type":"nominal","legend":null,"scale":{"domain":["E1","E2","E3","E4","E5","E6"],"range":["#f4a7c6","#e6452c","#79cf4e","#5ec4c2","#5c96ee","#5b6c9a"]}}
   }},
  {"data":{"name":"xrtlevel"},
   "mark":{"type":"rule","strokeWidth":3.5,"strokeDash":[15,8]},
   "encoding":{
    "y":{"field":"rate","type":"quantitative","axis":null,"scale":{"type":"log","domain":[0.0000942,0.59],"nice":false}},
    "stroke":{"field":"series","type":"nominal","legend":null,
     "scale":{"domain":["V+4.0","B+2.7","U+2.2","UVW1+0.9","UVM2−0.1","UVW2−1.2","XRT"],"range":["#f9e82d","#74e21a","#8ff0ef","#1b80ee","#d24262","#e08ae6","#c6cafa"]}}
   }},
  {"data":{"name":"xrterr"},
   "mark":{"type":"rule","strokeWidth":3,"opacity":0.8},
   "encoding":{
    "x":{"field":"day","type":"quantitative","axis":null},
    "y":{"field":"lo","type":"quantitative","axis":null,"scale":{"type":"log","domain":[0.0000942,0.59],"nice":false}},
    "y2":{"field":"hi"},
    "stroke":{"field":"series","type":"nominal","legend":null}
   }},
  {"data":{"name":"xrt"},
   "mark":{"type":"point","filled":true,"shape":"circle","size":340,"stroke":"#111","strokeWidth":2.2,"opacity":1},
   "encoding":{
    "x":{"field":"day","type":"quantitative","axis":null},
    "y":{"field":"rate","type":"quantitative","scale":{"type":"log","domain":[0.0000942,0.59],"nice":false},
     "axis":{"orient":"right","title":"0.3-10 keV counts s⁻¹","titleAngle":270,"titlePadding":67,"labelPadding":20,"labelOverlap":false,
      "values":[0.0001,0.0002,0.0003,0.0004,0.0005,0.0006,0.0007,0.0008,0.0009,0.001,0.002,0.003,0.004,0.005,0.006,0.007,0.008,0.009,0.01,0.02,0.03,0.04,0.05,0.06,0.07,0.08,0.09,0.1,0.2,0.3,0.4,0.5],
      "labelExpr":"datum.value==0.1?'10⁻¹':datum.value==0.01?'10⁻²':datum.value==0.001?'10⁻³':datum.value==0.0001?'10⁻⁴':''",
      "tickSize":{"condition":{"test":"datum.value==0.1||datum.value==0.01||datum.value==0.001||datum.value==0.0001","value":-15},"value":-8}}},
    "fill":{"field":"band","type":"nominal","title":null,
     "scale":{"domain":["XRT","UVW2−1.2","UVM2−0.1","UVW1+0.9","U+2.2","B+2.7","V+4.0"],"range":["#c6cafa","#e08ae6","#d24262","#1b80ee","#8ff0ef","#74e21a","#f9e82d"]}}
   }},
  {"data":{"name":"epochs"},
   "mark":{"type":"rule","strokeWidth":4},
   "encoding":{
    "x":{"field":"day","type":"quantitative",
     "axis":{"orient":"bottom","title":"MJD − 56983.6 [days]","titleFontSize":39,"titlePadding":22,"labelPadding":19,"labelOverlap":false,"values":[0,20,40,60,80,100,120,140,160,180,200,220,240,260,280,300,320,340,360,380,400,420,440,460,480,500,520,540,560,580,600,620],"labelExpr":"datum.value % 100 === 0 ? format(datum.value,'d') : ''","labelFontSize":{"condition":{"test":"datum.value % 100 === 0","value":35},"value":0},"tickSize":{"condition":{"test":"datum.value % 100 === 0","value":-16},"value":-8}}},
    "y":{"datum":20.245,"type":"quantitative","axis":null,"scale":{"domain":[11,20.5],"reverse":true,"nice":false,"zero":false}},
    "y2":{"datum":20.5},
    "color":{"field":"epoch","type":"nominal","legend":null}
   }},
  {"data":{"name":"levels"},
   "mark":{"type":"rule","strokeWidth":3.5,"strokeDash":[15,8]},
   "encoding":{
    "y":{"field":"level","type":"quantitative","axis":null,"scale":{"domain":[11,20.5],"reverse":true,"nice":false,"zero":false}},
    "stroke":{"field":"series","type":"nominal","legend":null}
   }},
  {"data":{"name":"magerr"},
   "mark":{"type":"rule","strokeWidth":2.5},
   "encoding":{
    "x":{"field":"day","type":"quantitative","axis":null},
    "y":{"field":"lo","type":"quantitative","axis":null,"scale":{"domain":[11,20.5],"reverse":true,"nice":false,"zero":false}},
    "y2":{"field":"hi"},
    "stroke":{"field":"series","type":"nominal","legend":null}
   }},
  {"data":{"name":"mag"},
   "mark":{"type":"point","filled":true,"shape":"circle","size":340,"stroke":"#111","strokeWidth":2.2,"opacity":1},
   "encoding":{
    "x":{"field":"day","type":"quantitative","axis":null},
    "y":{"field":"mag","type":"quantitative","scale":{"domain":[11,20.5],"reverse":true,"nice":false,"zero":false},
     "axis":{"orient":"left","title":"mag + constant","titlePadding":40,"labelPadding":22,"labelOverlap":false,
      "values":[11,11.2,11.4,11.6,11.8,12,12.2,12.4,12.6,12.8,13,13.2,13.4,13.6,13.8,14,14.2,14.4,14.6,14.8,15,15.2,15.4,15.6,15.8,16,16.2,16.4,16.6,16.8,17,17.2,17.4,17.6,17.8,18,18.2,18.4,18.6,18.8,19,19.2,19.4,19.6,19.8,20,20.2,20.4],
      "labelExpr":"abs(datum.value-round(datum.value))<0.01 ? format(datum.value,'d') : ''",
      "labelFontSize":{"condition":{"test":"abs(datum.value-round(datum.value))<0.01","value":35},"value":0},
      "tickSize":{"condition":{"test":"abs(datum.value-round(datum.value))<0.01","value":-15},"value":-7}}},
    "fill":{"field":"band","type":"nominal","title":null}
   }}
],
"resolve":{"scale":{"y":"independent"},"axis":{"x":"independent","y":"independent"}}
}
